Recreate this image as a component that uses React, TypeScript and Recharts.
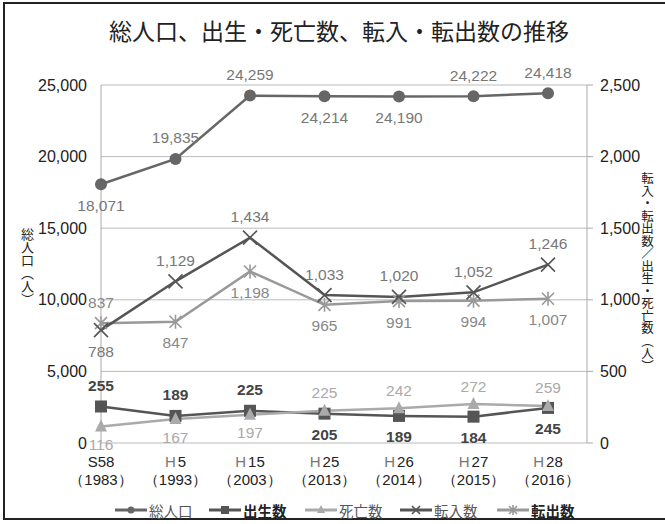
import React from "react"
import { LineChart, Line, XAxis, YAxis, CartesianGrid } from "recharts"

// 年次
const categories = ["S58", "H5", "H15", "H25", "H26", "H27", "H28"]
const years = ["1983", "1993", "2003", "2013", "2014", "2015", "2016"]

// 総人口（左軸）
const totalPop = [18071, 19835, 24259, 24214, 24190, 24222, 24418]
// 右軸
const births = [255, 189, 225, 205, 189, 184, 245]
const deaths = [116, 167, 197, 225, 242, 272, 259]
const moveIn = [788, 1129, 1434, 1033, 1020, 1052, 1246]
const moveOut = [837, 847, 1198, 965, 991, 994, 1007]

const leftTicks = [0, 5000, 10000, 15000, 20000, 25000]
const rightTicks = [0, 500, 1000, 1500, 2000, 2500]

// label placement: 1 = above, -1 = below
const totalPos = [-1, 1, 1, -1, -1, 1, 1]
const birthsPos = [1, 1, 1, -1, -1, -1, -1]
const deathsPos = [-1, -1, -1, 1, 1, 1, 1]
const moveInPos = [-1, 1, 1, 1, 1, 1, 1]
const moveOutPos = [1, -1, -1, -1, -1, -1, -1]

const data = categories.map((c, i) => ({
  cat: c,
  year: years[i],
  total: totalPop[i],
  births: births[i],
  deaths: deaths[i],
  moveIn: moveIn[i],
  moveOut: moveOut[i],
}))

const numFont = '"Liberation Sans", Arial, sans-serif'
const jpFont = '"Noto Sans CJK JP", sans-serif'
const fmt = (v: number) => v.toLocaleString("en-US")

function makeLabel(pos: number[], color: string, bold = false, gap = 21) {
  return (props: any) => {
    const { x, y, index, value } = props
    const up = pos[index] > 0
    return (
      <text
        key={index}
        x={x}
        y={up ? y - gap : y + gap}
        textAnchor="middle"
        dominantBaseline="central"
        fontFamily={numFont}
        fontSize={15.5}
        fontWeight={bold ? 700 : 400}
        fill={color}
      >
        {fmt(value)}
      </text>
    )
  }
}

type Shape = "circle" | "square" | "triangle" | "x" | "star"

function marker(shape: Shape, cx: number, cy: number, color: string, s = 6, key?: any) {
  if (shape === "circle") return <circle key={key} cx={cx} cy={cy} r={s} fill={color} />
  if (shape === "square")
    return <rect key={key} x={cx - s} y={cy - s} width={s * 2} height={s * 2} fill={color} />
  if (shape === "triangle")
    return (
      <polygon
        key={key}
        points={`${cx},${cy - s - 1} ${cx - s},${cy + s - 1} ${cx + s},${cy + s - 1}`}
        fill={color}
      />
    )
  if (shape === "x")
    return (
      <path
        key={key}
        d={`M${cx - s} ${cy - s}L${cx + s} ${cy + s}M${cx + s} ${cy - s}L${cx - s} ${cy + s}`}
        stroke={color}
        strokeWidth={1.6}
        fill="none"
      />
    )
  return (
    <path
      key={key}
      d={`M${cx - s} ${cy - s}L${cx + s} ${cy + s}M${cx + s} ${cy - s}L${cx - s} ${cy + s}M${cx} ${cy - s - 1}L${cx} ${cy + s + 1}`}
      stroke={color}
      strokeWidth={1.6}
      fill="none"
    />
  )
}

const makeDot = (shape: Shape, color: string, s = 6) => (props: any) =>
  marker(shape, props.cx, props.cy, color, s, props.index)

function XTick(props: any) {
  const { x, y, payload, index } = props
  const cat: string = payload.value
  const isH = cat.startsWith("H")
  return (
    <g>
      <text x={x} y={y + 16} textAnchor="middle" fontFamily={numFont} fontSize={15} fill="#222">
        {isH ? (
          <>
            <tspan fill="#777">H</tspan>
            <tspan dx={2}>{cat.slice(1)}</tspan>
          </>
        ) : (
          <tspan>{cat}</tspan>
        )}
      </text>
      <text x={x} y={y + 34} textAnchor="middle" fontFamily={numFont} fontSize={15} fill="#222">
        {"（" + years[index] + "）"}
      </text>
    </g>
  )
}

const legendItems: { name: string; shape: Shape; color: string; bold: boolean; left: number }[] = [
  { name: "総人口", shape: "circle", color: "#666", bold: false, left: 115 },
  { name: "出生数", shape: "square", color: "#555", bold: true, left: 209 },
  { name: "死亡数", shape: "triangle", color: "#aaa", bold: false, left: 305 },
  { name: "転入数", shape: "x", color: "#555", bold: false, left: 400 },
  { name: "転出数", shape: "star", color: "#999", bold: true, left: 497 },
]

export default function App() {
  return (
    <div style={{ position: "absolute", left: 0, top: 0, width: 665, height: 524, background: "#fff" }}>
      <div
        style={{
          position: "absolute",
          left: 3,
          top: 2,
          width: 664,
          height: 518,
          border: "2px solid #222",
          boxSizing: "border-box",
        }}
      />
      <div
        style={{
          position: "absolute",
          left: 80,
          width: 518,
          top: 16,
          textAlign: "center",
          fontFamily: jpFont,
          fontSize: 23,
          lineHeight: "28px",
          color: "#222",
        }}
      >
        総人口、出生・死亡数、転入・転出数の推移
      </div>
      <div
        style={{
          position: "absolute",
          left: 20,
          top: 228,
          writingMode: "vertical-rl",
          fontFamily: jpFont,
          fontSize: 13,
          lineHeight: "14px",
          color: "#222",
        }}
      >
        総人口（人）
      </div>
      <div
        style={{
          position: "absolute",
          left: 641,
          top: 172,
          writingMode: "vertical-rl",
          fontFamily: jpFont,
          fontSize: 12.5,
          lineHeight: "13px",
          color: "#222",
        }}
      >
        転入・転出数／出生・死亡数（人）
      </div>

      <div style={{ position: "absolute", left: 0, top: 0 }}>
        <LineChart width={665} height={524} data={data} margin={{ top: 85, right: 0, left: 0, bottom: 41 }}>
          <CartesianGrid yAxisId="left" vertical={false} stroke="#bbb" />
          <XAxis
            dataKey="cat"
            scale="point"
            padding={{ left: 0, right: 39 }}
            axisLine={false}
            tickLine={false}
            height={40}
            interval={0}
            tick={<XTick />}
          />
          <YAxis
            yAxisId="left"
            width={101}
            domain={[0, 25000]}
            ticks={leftTicks}
            tickFormatter={fmt}
            axisLine={{ stroke: "#aaa" }}
            tickLine={false}
            tickMargin={8}
            tick={{ fill: "#222", fontSize: 16, fontFamily: numFont }}
          />
          <YAxis
            yAxisId="right"
            orientation="right"
            width={78}
            domain={[0, 2500]}
            ticks={rightTicks}
            tickFormatter={fmt}
            axisLine={{ stroke: "#aaa" }}
            tickLine={{ stroke: "#aaa" }}
            tickMargin={7}
            tick={{ fill: "#222", fontSize: 16, fontFamily: numFont }}
          />
          <Line
            yAxisId="right"
            dataKey="moveOut"
            stroke="#999"
            strokeWidth={2.5}
            dot={makeDot("star", "#999")}
            label={makeLabel(moveOutPos, "#888")}
            isAnimationActive={false}
          />
          <Line
            yAxisId="right"
            dataKey="moveIn"
            stroke="#555"
            strokeWidth={2.5}
            dot={makeDot("x", "#555", 7)}
            label={makeLabel(moveInPos, "#777")}
            isAnimationActive={false}
          />
          <Line
            yAxisId="right"
            dataKey="births"
            stroke="#555"
            strokeWidth={2.5}
            dot={makeDot("square", "#555")}
            label={makeLabel(birthsPos, "#444", true)}
            isAnimationActive={false}
          />
          <Line
            yAxisId="right"
            dataKey="deaths"
            stroke="#aaa"
            strokeWidth={2.5}
            dot={makeDot("triangle", "#aaa")}
            label={makeLabel(deathsPos, "#aaa", false, 18)}
            isAnimationActive={false}
          />
          <Line
            yAxisId="left"
            dataKey="total"
            stroke="#666"
            strokeWidth={2.5}
            dot={makeDot("circle", "#666")}
            label={makeLabel(totalPos, "#777")}
            isAnimationActive={false}
          />
        </LineChart>
      </div>

      {legendItems.map((it) => (
        <div
          key={it.name}
          style={{
            position: "absolute",
            left: it.left,
            top: 500,
            height: 20,
            display: "flex",
            alignItems: "center",
            fontFamily: jpFont,
            fontSize: 14.5,
            fontWeight: it.bold ? 700 : 400,
            color: it.bold ? "#222" : "#555",
          }}
        >
          <svg width={32} height={14} style={{ marginRight: 2 }}>
            <line x1={0} y1={7} x2={32} y2={7} stroke={it.color} strokeWidth={3} />
            {marker(it.shape, 16, 7, it.color, it.shape === "circle" ? 3.5 : 4)}
          </svg>
          {it.name}
        </div>
      ))}
    </div>
  )
}
